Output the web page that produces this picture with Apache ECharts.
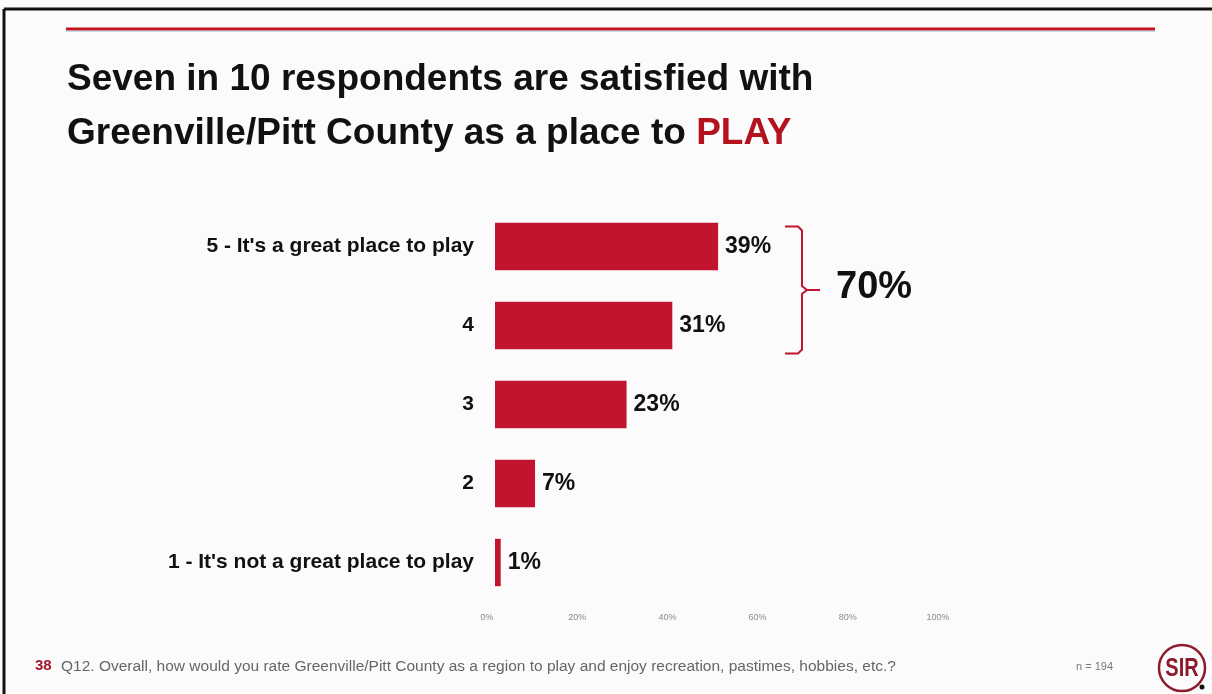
<!DOCTYPE html>
<html>
<head>
<meta charset="utf-8">
<script src="https://cdn.jsdelivr.net/npm/echarts@6/dist/echarts.min.js"></script>
<style>
html,body{margin:0;padding:0;background:#fbfbfc;}
#char01{width:1212px;height:694px;}
</style>
</head>
<body>
<div id="char01"></div>
<script>
// rating categories, top to bottom
var categories = ["5 - It's a great place to play", '4', '3', '2', "1 - It's not a great place to play"];
var values = [39, 31, 23, 7, 1];
var tickLabels = ['0%', '20%', '40%', '60%', '80%', '100%'];
var topTwo = values[0] + values[1];

var red = '#c3142f';
var font = '"Liberation Sans", Arial, sans-serif';
var chartDom01 = document.getElementById('char01');
var myChart01 = echarts.init(chartDom01);
var option01 = {
    backgroundColor: '#fbfbfc',
    textStyle: { fontFamily: font },
    title: {
        left: 62,
        top: 48,
        text: 'Seven in 10 respondents are satisfied with\nGreenville/Pitt County as a place to {r|PLAY}',
        textStyle: {
            fontSize: 37,
            fontWeight: 'bold',
            color: '#111',
            lineHeight: 54,
            rich: {
                r: { fontSize: 37, fontWeight: 'bold', color: '#b3121e', lineHeight: 54 }
            }
        }
    },
    grid: [
        { left: 495, width: 572, top: 207, height: 395 },
        { left: 487, width: 451, top: 207, height: 395 }
    ],
    xAxis: [{
        type: 'value', gridIndex: 0, min: 0, max: 100,
        axisLabel: { show: false }, axisLine: { show: false },
        axisTick: { show: false }, splitLine: { show: false }
    }, {
        type: 'category', gridIndex: 1, data: tickLabels, boundaryGap: false,
        axisLabel: { show: true, color: '#8a8a8a', fontSize: 9, margin: 11 },
        axisLine: { show: false }, axisTick: { show: false }, splitLine: { show: false }
    }],
    yAxis: [{
        type: 'category', gridIndex: 0, data: categories, inverse: true,
        axisLabel: { color: '#111', fontSize: 21, fontWeight: 'bold', margin: 21 },
        axisLine: { show: false }, axisTick: { show: false }
    }, {
        type: 'value', gridIndex: 1, show: false, min: 0, max: 1
    }],
    series: [{
        type: 'bar',
        xAxisIndex: 0, yAxisIndex: 0,
        data: values,
        barCategoryGap: '40%',
        itemStyle: { color: red },
        label: {
            show: true, position: 'right', distance: 7,
            formatter: '{c}%', color: '#111', fontSize: 23, fontWeight: 'bold'
        },
        silent: true
    }]
};
myChart01.setOption(option01);

// bracket + summary, placed from the bar positions
var yTop = myChart01.convertToPixel({ yAxisIndex: 0 }, categories[0]) - 20;
var yBot = myChart01.convertToPixel({ yAxisIndex: 0 }, categories[1]) + 28;
var yMid = (yTop + yBot) / 2;
var bx = 802;

myChart01.setOption({
    graphic: [
        // frame
        { type: 'line', shape: { x1: 4, y1: 9, x2: 4, y2: 694 }, style: { stroke: '#111', lineWidth: 3 } },
        { type: 'line', shape: { x1: 4, y1: 9, x2: 1212, y2: 9 }, style: { stroke: '#111', lineWidth: 3 } },
        // red rule
        { type: 'line', shape: { x1: 66, y1: 29, x2: 1155, y2: 29 }, style: { stroke: '#c0141f', lineWidth: 3 } },
        { type: 'line', shape: { x1: 66, y1: 31.5, x2: 1155, y2: 31.5 }, style: { stroke: '#b9dcef', lineWidth: 1 } },
        // bracket
        { type: 'polyline', shape: { points: [[785, yTop], [798, yTop], [bx, yTop + 4], [bx, yMid - 4], [bx + 5, yMid], [820, yMid]] },
          style: { fill: null, stroke: red, lineWidth: 2 } },
        { type: 'polyline', shape: { points: [[bx + 5, yMid], [bx, yMid + 4], [bx, yBot - 4], [798, yBot], [785, yBot]] },
          style: { fill: null, stroke: red, lineWidth: 2 } },
        { type: 'text', left: 836, top: yMid - 21,
          style: { text: topTwo + '%', fontSize: 38, fontWeight: 'bold', fill: '#111', fontFamily: font } },
        // footer
        { type: 'text', left: 35, top: 658,
          style: { text: '38', fontSize: 15, fontWeight: 'bold', fill: '#a3162a', fontFamily: font } },
        { type: 'text', left: 61, top: 659,
          style: { text: 'Q12. Overall, how would you rate Greenville/Pitt County as a region to play and enjoy recreation, pastimes, hobbies, etc.?',
                   fontSize: 15.5, fill: '#666', fontFamily: font } },
        { type: 'text', left: 1076, top: 661,
          style: { text: 'n = 194', fontSize: 11, fill: '#777', fontFamily: font } },
        // logo
        { type: 'circle', shape: { cx: 1182, cy: 668, r: 23 }, style: { fill: null, stroke: '#8e1b2c', lineWidth: 2.5 } },
        { type: 'text', x: 1182, y: 669, scaleX: 0.8,
          style: { text: 'SIR', fontSize: 25, fontWeight: 'bold', fill: '#8e1b2c', align: 'center', verticalAlign: 'middle',
                   fontFamily: font } },
        { type: 'circle', shape: { cx: 1202, cy: 687, r: 2.5 }, style: { fill: '#111' } }
    ]
});
</script>
</body>
</html>
